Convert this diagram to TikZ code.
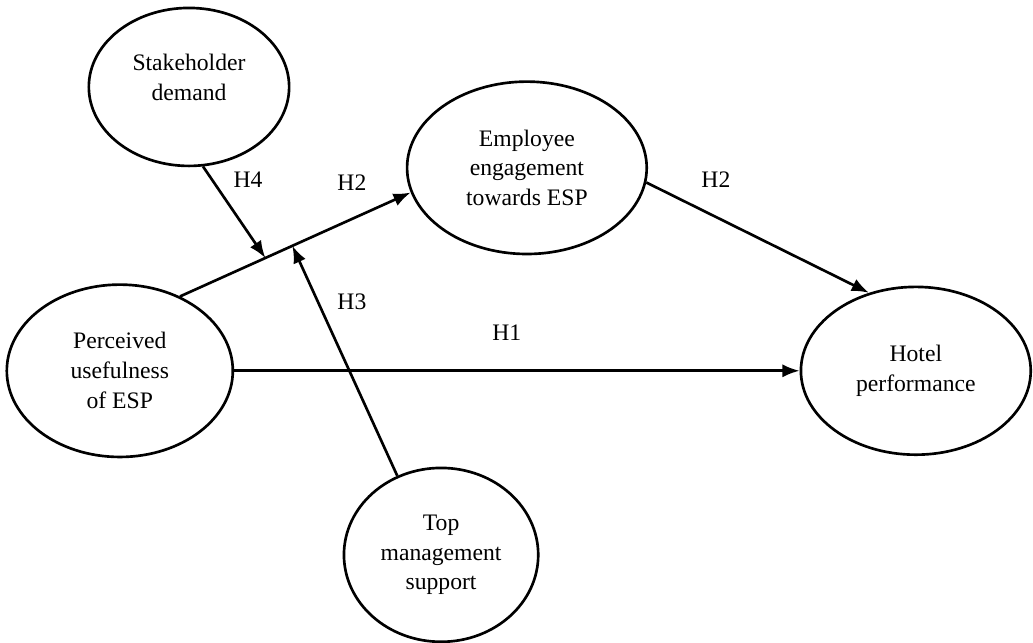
\documentclass[tikz,border=0pt]{standalone}
\usepackage{fontspec}
\setmainfont{Liberation Serif}
\usetikzlibrary{shapes.geometric,arrows.meta}
\begin{document}
\begin{tikzpicture}[>={Latex[length=13pt,width=10pt]}, line width=2pt,
  construct/.style={draw, ellipse, align=center, inner sep=0pt, font=\fontsize{17.8}{22.5}\selectfont},
  hyp/.style={font=\fontsize{17.8}{22.5}\selectfont}]
\useasboundingbox (0,0) rectangle (27.33,-17.01);
\node[construct, minimum width=5.3cm, minimum height=4.18cm] (sd) at (5.00,-2.30) {Stakeholder\\demand\\[-7.5pt]};
\node[construct, minimum width=6.34cm, minimum height=4.56cm] (ee) at (13.94,-4.44) {Employee\\engagement\\towards ESP};
\node[construct, minimum width=5.98cm, minimum height=4.56cm] (pu) at (3.17,-9.81) {Perceived\\usefulness\\of ESP};
\node[construct, minimum width=6.08cm, minimum height=4.44cm] (ho) at (24.23,-9.81) {Hotel\\performance};
\node[construct, minimum width=5.14cm, minimum height=4.6cm] (tm) at (11.67,-14.68) {Top\\management\\support};
\node[hyp] (h4) at (6.56,-4.76) {H4};
\node[hyp] (h2a) at (9.31,-4.84) {H2};
\node[hyp] (h3) at (9.31,-7.99) {H3};
\node[hyp] (h1) at (13.41,-8.81) {H1};
\node[hyp] (h2b) at (18.94,-4.76) {H2};
\draw[->] (pu.51.5) -- coordinate[pos=.37] (m4) coordinate[pos=.487] (m3) (ee.192.8);
\draw[->] (sd.280.8) -- (m4);
\draw[->] (tm.119.1) -- (m3);
\draw[->] (pu.east) -- (ho.west);
\draw[->] (ee.353.3) -- (ho.121.2);
\end{tikzpicture}
\end{document}
